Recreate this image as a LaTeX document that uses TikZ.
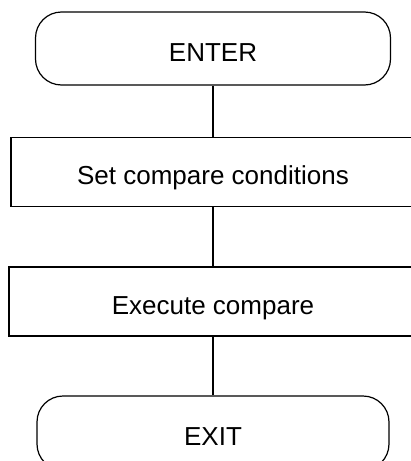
\documentclass[tikz,border=0pt]{standalone}
\usepackage{fontspec}
\setmainfont{Liberation Sans}
\usetikzlibrary{positioning}

\begin{document}
\begin{tikzpicture}[x=1pt,y=-1pt,line width=1.2pt,
  term/.style={draw,rounded corners=26pt,inner sep=0pt,text height=25pt,text depth=0pt,font=\fontsize{26}{30}\selectfont},
  proc/.style={draw,inner sep=0pt,text height=25pt,text depth=0pt,font=\fontsize{26}{30}\selectfont}]
\clip (0,0) rectangle (411,461);
%terminals
\node[term,minimum width=355pt,minimum height=73pt] (ENTER) at (213,48.5) {ENTER};
\node[term,minimum width=352pt,minimum height=74pt] (EXIT) at (213,433) {EXIT};
%steps
\node[proc,minimum width=404pt,minimum height=68.5pt] (SETCOND) at (213,172) {Set compare conditions};
\node[proc,minimum width=408pt,minimum height=69pt] (EXECCMP) at (213,301.5) {Execute compare};
%flow lines
\draw (ENTER) -- (SETCOND);
\draw (SETCOND) -- (EXECCMP);
\draw (EXECCMP) -- (EXIT);
\end{tikzpicture}
\end{document}
